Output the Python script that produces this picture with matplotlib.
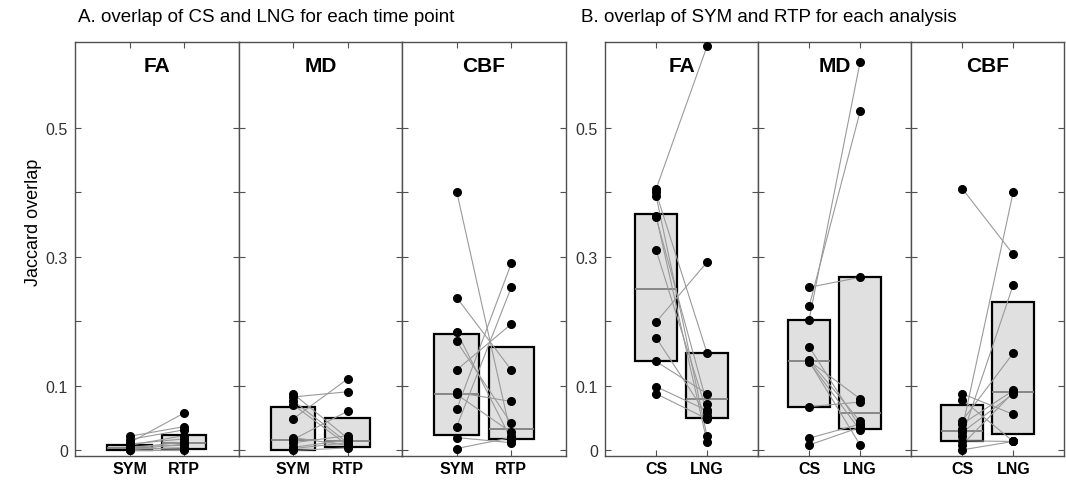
import matplotlib.pyplot as plt

plt.rcParams['font.family'] = ['Liberation Sans', 'DejaVu Sans']

measures = ['FA', 'MD', 'CBF']
a_groups = ['SYM', 'RTP']
b_groups = ['CS', 'LNG']
ytick_vals = [0, 0.1, 0.2, 0.3, 0.4, 0.5]
ytick_text = ['0', '0.1', '', '0.3', '', '0.5']

# A. Jaccard overlap of CS and LNG, per time point (one value per subject)
a_fa_sym = [0.022, 0.012, 0.017, 0.008, 0.010, 0.004, 0.006, 0.002, 0.003, 0.001, 0.0]
a_fa_rtp = [0.037, 0.058, 0.032, 0.023, 0.018, 0.013, 0.008, 0.004, 0.002, 0.010, 0.0]
a_md_sym = [0.088, 0.083, 0.077, 0.071, 0.049, 0.017, 0.012, 0.005, 0.0, 0.003, 0.020]
a_md_rtp = [0.019, 0.091, 0.012, 0.008, 0.111, 0.061, 0.023, 0.016, 0.004, 0.012, 0.008]
a_cbf_sym = [0.401, 0.237, 0.184, 0.169, 0.125, 0.087, 0.064, 0.037, 0.020, 0.003, 0.090]
a_cbf_rtp = [0.022, 0.125, 0.017, 0.042, 0.196, 0.028, 0.290, 0.253, 0.012, 0.020, 0.076]

# B. Jaccard overlap of SYM and RTP, per analysis
b_fa_cs = [0.405, 0.400, 0.395, 0.364, 0.362, 0.311, 0.199, 0.175, 0.138, 0.099, 0.088]
b_fa_lng = [0.627, 0.151, 0.022, 0.013, 0.072, 0.059, 0.292, 0.054, 0.088, 0.062, 0.049]
b_md_cs = [0.253, 0.2235, 0.203, 0.161, 0.139, 0.137, 0.138, 0.068, 0.019, 0.0085, 0.140]
b_md_lng = [0.2685, 0.526, 0.603, 0.036, 0.080, 0.031, 0.0085, 0.075, 0.041, 0.036, 0.045]
b_cbf_cs = [0.406, 0.088, 0.079, 0.046, 0.041, 0.034, 0.028, 0.022, 0.015, 0.009, 0.001]
b_cbf_lng = [0.304, 0.056, 0.014, 0.151, 0.093, 0.401, 0.088, 0.257, 0.014, 0.090, 0.014]

# box stats: [q1, median, q3] per group
a_fa_box = [[0.0, 0.004, 0.008], [0.003, 0.011, 0.024]]
a_md_box = [[0.0, 0.016, 0.067], [0.005, 0.015, 0.050]]
a_cbf_box = [[0.024, 0.087, 0.181], [0.018, 0.034, 0.160]]
b_fa_box = [[0.138, 0.250, 0.367], [0.051, 0.080, 0.151]]
b_md_box = [[0.068, 0.138, 0.203], [0.033, 0.058, 0.2685]]
b_cbf_box = [[0.015, 0.030, 0.071], [0.026, 0.090, 0.230]]

panel_a = [(a_fa_sym, a_fa_rtp, a_fa_box), (a_md_sym, a_md_rtp, a_md_box),
           (a_cbf_sym, a_cbf_rtp, a_cbf_box)]
panel_b = [(b_fa_cs, b_fa_lng, b_fa_box), (b_md_cs, b_md_lng, b_md_box),
           (b_cbf_cs, b_cbf_lng, b_cbf_box)]

fig = plt.figure(figsize=(10.66, 4.85), dpi=100)
edge = '#505050'


def draw(ax, first, second, boxes, labels, title, show_y):
    pos = [1, 2]
    stats = [dict(q1=b[0], med=b[1], q3=b[2], whislo=b[0], whishi=b[2]) for b in boxes]
    ax.bxp(stats, positions=pos, widths=0.82, showfliers=False, showcaps=False,
           patch_artist=True,
           boxprops=dict(facecolor='#e0e0e0', edgecolor='black', linewidth=1.6),
           medianprops=dict(color='#808080', linewidth=1.3),
           whiskerprops=dict(linewidth=0))
    for a, b in zip(first, second):
        ax.plot(pos, [a, b], color='#9a9a9a', lw=0.8, zorder=3)
    ax.plot([pos[0]] * len(first), first, 'o', color='black', ms=5.5, zorder=4)
    ax.plot([pos[1]] * len(second), second, 'o', color='black', ms=5.5, zorder=4)

    ax.set_xlim(0, 3)
    ax.set_ylim(-0.0081, 0.6333)
    ax.set_xticks(pos)
    ax.set_xticklabels(labels, fontweight='bold', fontsize=11.5)
    ax.set_yticks(ytick_vals)
    ax.set_yticklabels(ytick_text, fontsize=11.5, color='#333333')
    ax.tick_params(direction='in', left=True, right=True, top=True, bottom=True,
                   length=4, color=edge, labelleft=show_y, pad=5)
    ax.tick_params(axis='x', pad=4)
    for s in ax.spines.values():
        s.set_color(edge)
        s.set_linewidth(1.0)
    ax.text(0.5, 0.944, title, transform=ax.transAxes, ha='center', va='center',
            fontsize=15, fontweight='bold')


bottom = 1 - 456.7 / 485
height = (456.7 - 43) / 485

for i, (first, second, boxes) in enumerate(panel_a):
    ax = fig.add_axes([(75 + i * 163.6) / 1066, bottom, 163.6 / 1066, height])
    draw(ax, first, second, boxes, a_groups, measures[i], i == 0)

for i, (first, second, boxes) in enumerate(panel_b):
    ax = fig.add_axes([(605 + i * 153.1) / 1066, bottom, 153.1 / 1066, height])
    draw(ax, first, second, boxes, b_groups, measures[i], i == 0)

fig.text(78 / 1066, 1 - 17 / 485, 'A. overlap of CS and LNG for each time point',
         va='center', ha='left', fontsize=13.5)
fig.text(581 / 1066, 1 - 17 / 485, 'B. overlap of SYM and RTP for each analysis',
         va='center', ha='left', fontsize=13.5)
fig.text(34 / 1066, 1 - 222 / 485, 'Jaccard overlap', rotation=90,
         va='center', ha='center', fontsize=13)

fig.savefig('out.png', dpi=100)
